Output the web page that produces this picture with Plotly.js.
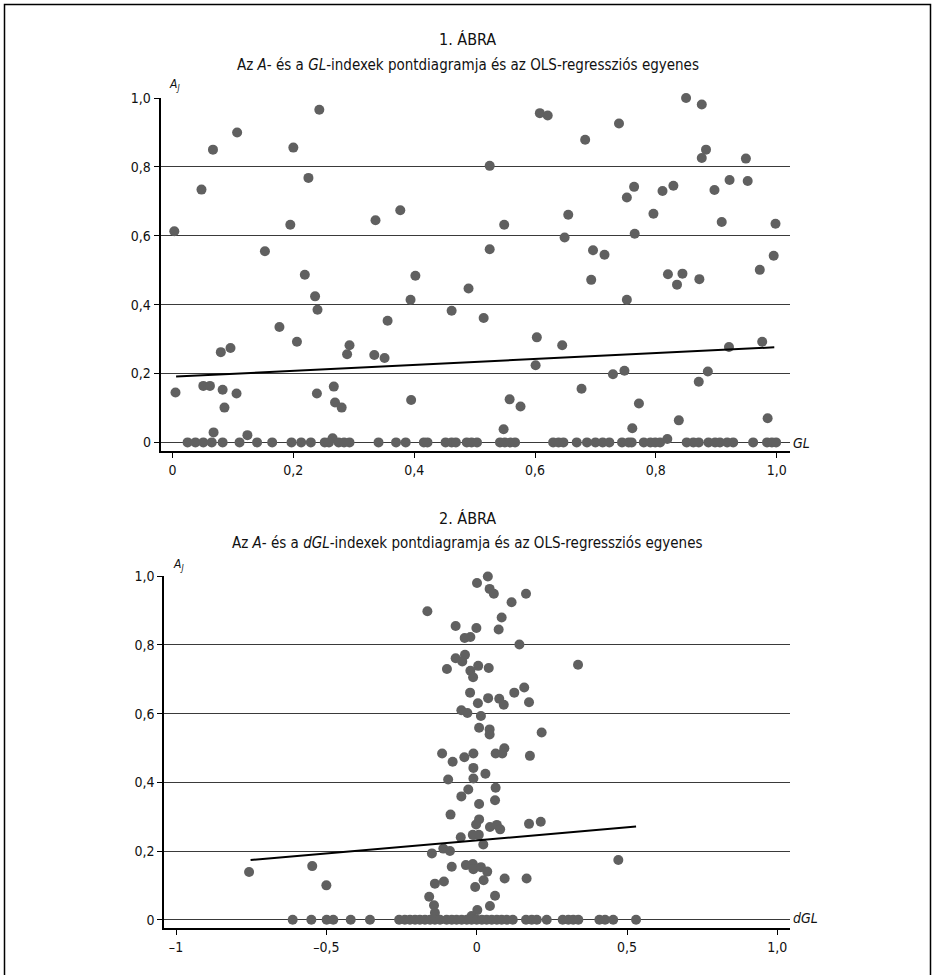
<!DOCTYPE html>
<html>
<head>
<meta charset="utf-8">
<script src="https://cdn.plot.ly/plotly-3.0.1.min.js"></script>
<style>
html,body{margin:0;padding:0;background:#fff;}
#chart{width:935px;height:975px;}
</style>
</head>
<body>
<div id="chart"></div>
<script>
// ---- Chart 1: A vs GL ----
const glX = [0.003,0.048,0.067,0.107,0.200,0.243,0.225,0.195,0.153,0.336,0.377,0.219,0.402,0.490,
  0.005,0.051,0.062,0.080,0.096,0.083,0.086,0.106,0.068,0.124,0.177,0.206,0.236,0.240,0.239,0.267,
  0.269,0.280,0.289,0.293,0.334,0.351,0.356,0.394,0.395,0.462,0.850,0.876,0.608,0.621,0.739,0.683,
  0.883,0.876,0.949,0.525,0.764,0.752,0.811,0.829,0.897,0.922,0.952,0.655,0.549,0.796,0.909,0.998,
  0.649,0.765,0.525,0.696,0.715,0.995,0.972,0.820,0.844,0.872,0.835,0.693,0.752,0.515,0.603,0.645,
  0.921,0.976,0.601,0.729,0.748,0.886,0.871,0.677,0.558,0.576,0.772,0.548,0.761,0.838,0.985,0.819,0.265,
  0.025,0.038,0.051,0.065,0.083,0.111,0.140,0.165,0.197,0.213,0.229,0.252,0.259,0.275,0.284,0.293,
  0.341,0.370,0.386,0.416,0.422,0.452,0.462,0.469,0.487,0.495,0.504,0.542,0.550,0.559,0.567,0.630,
  0.639,0.647,0.669,0.686,0.700,0.712,0.723,0.744,0.755,0.760,0.780,0.791,0.799,0.807,0.851,0.862,
  0.871,0.887,0.898,0.906,0.918,0.928,0.961,0.984,0.992,0.999];
const glA = [0.613,0.734,0.850,0.900,0.856,0.966,0.768,0.632,0.555,0.645,0.674,0.487,0.484,0.447,
  0.145,0.164,0.164,0.262,0.274,0.153,0.101,0.142,0.029,0.021,0.335,0.292,0.424,0.385,0.142,0.162,
  0.116,0.101,0.256,0.282,0.254,0.245,0.353,0.414,0.123,0.382,1.000,0.981,0.956,0.949,0.926,0.879,
  0.850,0.826,0.824,0.803,0.742,0.711,0.730,0.745,0.733,0.762,0.759,0.661,0.632,0.664,0.640,0.635,
  0.595,0.606,0.561,0.558,0.545,0.542,0.501,0.488,0.490,0.474,0.458,0.472,0.414,0.361,0.305,0.282,
  0.277,0.292,0.224,0.198,0.208,0.206,0.176,0.156,0.125,0.104,0.113,0.038,0.041,0.064,0.070,0.010,0.012,
  0,0,0,0,0,0,0,0,0,0,0,0,0,0,0,0,
  0,0,0,0,0,0,0,0,0,0,0,0,0,0,0,0,
  0,0,0,0,0,0,0,0,0,0,0,0,0,0,0,0,
  0,0,0,0,0,0,0,0,0,0];
const fit1X = [0.006, 0.996];
const fit1Y = [0.191, 0.276];

// ---- Chart 2: A vs dGL ----
const dglX = [0.037,0.001,0.043,0.057,0.164,0.116,-0.164,0.083,-0.070,-0.001,0.073,-0.040,-0.021,0.142,
  -0.039,-0.070,-0.048,-0.099,0.005,0.040,-0.021,-0.012,0.337,-0.022,0.004,0.038,0.075,0.090,0.125,
  0.158,0.174,-0.051,-0.031,0.014,0.008,0.043,0.043,0.216,-0.115,-0.041,-0.011,0.063,0.092,0.085,
  0.177,-0.080,-0.011,0.029,-0.095,-0.011,0.063,-0.028,-0.051,0.061,0.008,-0.087,0.008,-0.002,0.044,
  0.067,0.078,0.174,0.213,-0.013,0.007,-0.053,0.022,-0.111,-0.089,-0.149,0.471,-0.083,-0.036,-0.013,
  -0.011,0.014,0.035,-0.139,-0.109,-0.005,0.023,0.093,0.166,-0.158,0.061,-0.142,0.044,0.002,-0.139,
  -0.017,-0.757,-0.547,-0.500,
  -0.612,-0.550,-0.499,-0.477,-0.419,-0.355,-0.258,-0.239,-0.222,-0.205,-0.189,-0.172,-0.155,-0.139,
  -0.122,-0.100,-0.083,-0.067,-0.050,-0.033,-0.017,0.000,0.017,0.033,0.050,0.067,0.083,0.100,0.120,
  0.164,0.183,0.200,0.233,0.286,0.305,0.321,0.338,0.408,0.427,0.454,0.530];
const dglA = [0.999,0.980,0.963,0.949,0.949,0.924,0.898,0.880,0.855,0.849,0.845,0.820,0.823,0.801,
  0.771,0.761,0.752,0.730,0.739,0.733,0.725,0.706,0.742,0.661,0.630,0.645,0.643,0.626,0.661,
  0.676,0.633,0.610,0.602,0.593,0.559,0.554,0.539,0.545,0.484,0.473,0.484,0.484,0.499,0.484,
  0.477,0.460,0.442,0.425,0.408,0.411,0.384,0.379,0.359,0.348,0.337,0.306,0.292,0.277,0.270,
  0.276,0.263,0.279,0.285,0.247,0.247,0.240,0.219,0.207,0.200,0.193,0.174,0.154,0.159,0.162,
  0.147,0.153,0.140,0.105,0.111,0.095,0.115,0.120,0.120,0.067,0.070,0.042,0.040,0.028,0.020,
  0.011,0.139,0.156,0.100,
  0,0,0,0,0,0,0,0,0,0,0,0,0,0,
  0,0,0,0,0,0,0,0,0,0,0,0,0,0,0,
  0,0,0,0,0,0,0,0,0,0,0,0];
const fit2X = [-0.752, 0.530];
const fit2Y = [0.174, 0.271];

// ---- tick labels ----
const yTickVals = [0, 0.2, 0.4, 0.6, 0.8, 1.0];
const yTickText = ['0', '0,2', '0,4', '0,6', '0,8', '1,0'];
const x1TickVals = [0, 0.2, 0.4, 0.6, 0.8, 1.0];
const x1TickText = ['0', '0,2', '0,4', '0,6', '0,8', '1,0'];
const x2TickVals = [-1, -0.5, 0, 0.5, 1.0];
const x2TickText = ['–1', '–0,5', '0', '0,5', '1,0'];

const FONT = "'Liberation Sans Narrow', 'DejaVu Sans Condensed', 'Roboto Condensed', 'Arial Narrow', sans-serif";
const W = 935, H = 975;
const px = v => v / W;
const py = v => 1 - v / H;

const dotColor = '#606060';
const traces = [
  {x: glX, y: glA, type: 'scatter', mode: 'markers', xaxis: 'x', yaxis: 'y',
   marker: {color: dotColor, size: 10}, cliponaxis: false, hoverinfo: 'x+y'},
  {x: fit1X, y: fit1Y, type: 'scatter', mode: 'lines', xaxis: 'x', yaxis: 'y',
   line: {color: '#000', width: 2}, cliponaxis: false},
  {x: dglX, y: dglA, type: 'scatter', mode: 'markers', xaxis: 'x2', yaxis: 'y2',
   marker: {color: dotColor, size: 10}, cliponaxis: false, hoverinfo: 'x+y'},
  {x: fit2X, y: fit2Y, type: 'scatter', mode: 'lines', xaxis: 'x2', yaxis: 'y2',
   line: {color: '#000', width: 2}, cliponaxis: false}
];

const yAxisCommon = {
  range: [-0.025, 1.0], tickvals: yTickVals, ticktext: yTickText,
  showgrid: true, gridcolor: '#3a3a3a', gridwidth: 1, zeroline: false,
  showline: true, linecolor: '#000', linewidth: 2,
  ticks: 'outside', ticklen: 5, tickcolor: '#000', tickwidth: 1,
  tickfont: {family: FONT, size: 14, color: '#111'}, fixedrange: true
};
const xAxisCommon = {
  showgrid: false, zeroline: false, showline: true, linecolor: '#000', linewidth: 2,
  ticks: 'outside', ticklen: 5, tickcolor: '#000', tickwidth: 1,
  tickfont: {family: FONT, size: 14, color: '#111'}, fixedrange: true
};

const ann = (text, x, y, size, xanchor, italic) => ({
  text: text, x: x, y: y, xref: 'paper', yref: 'paper', showarrow: false,
  xanchor: xanchor || 'center', yanchor: 'middle',
  font: {family: FONT, size: size, color: '#111', style: italic ? 'italic' : 'normal'}
});

const layout = {
  width: W, height: H, autosize: false,
  margin: {l: 0, r: 0, t: 0, b: 0, pad: 0},
  paper_bgcolor: '#fff', plot_bgcolor: '#fff',
  showlegend: false,
  font: {family: FONT, color: '#111'},
  xaxis: Object.assign({}, xAxisCommon, {
    domain: [px(160.7), px(790)], range: [-0.0195, 1.022],
    tickvals: x1TickVals, ticktext: x1TickText, anchor: 'y'}),
  yaxis: Object.assign({}, yAxisCommon, {domain: [py(451), py(98)], anchor: 'x'}),
  xaxis2: Object.assign({}, xAxisCommon, {
    domain: [px(164.3), px(790)], range: [-1.039, 1.042],
    tickvals: x2TickVals, ticktext: x2TickText, anchor: 'y2'}),
  yaxis2: Object.assign({}, yAxisCommon, {domain: [py(928.3), py(576.2)], anchor: 'x2'}),
  annotations: [
    ann('1. ÁBRA', 0.5, py(40), 16),
    ann('Az <i>A</i>- és a <i>GL</i>-indexek pontdiagramja és az OLS-regressziós egyenes', 0.5, py(65), 15),
    ann('A<sub>J</sub>', px(167), py(85), 12, 'left', true),
    ann('GL', px(791), py(443), 14, 'left', true),
    ann('2. ÁBRA', 0.5, py(518), 16),
    ann('Az <i>A</i>- és a <i>dGL</i>-indexek pontdiagramja és az OLS-regressziós egyenes', 0.5, py(543), 15),
    ann('A<sub>J</sub>', px(171), py(565), 12, 'left', true),
    ann('dGL', px(791), py(918), 14, 'left', true)
  ],
  shapes: [
    {type: 'rect', xref: 'paper', yref: 'paper', x0: px(4.5), x1: px(930.5), y0: -0.02, y1: py(4.5),
     line: {color: '#000', width: 1.5}, fillcolor: 'rgba(0,0,0,0)'}
  ]
};

Plotly.newPlot('chart', traces, layout, {displayModeBar: false, staticPlot: true}).then(gd => {
  // drop empty placeholder text nodes (unused axis titles)
  gd.querySelectorAll('text').forEach(t => {
    if (!t.textContent || !t.textContent.trim()) t.remove();
  });
});
</script>
</body>
</html>
